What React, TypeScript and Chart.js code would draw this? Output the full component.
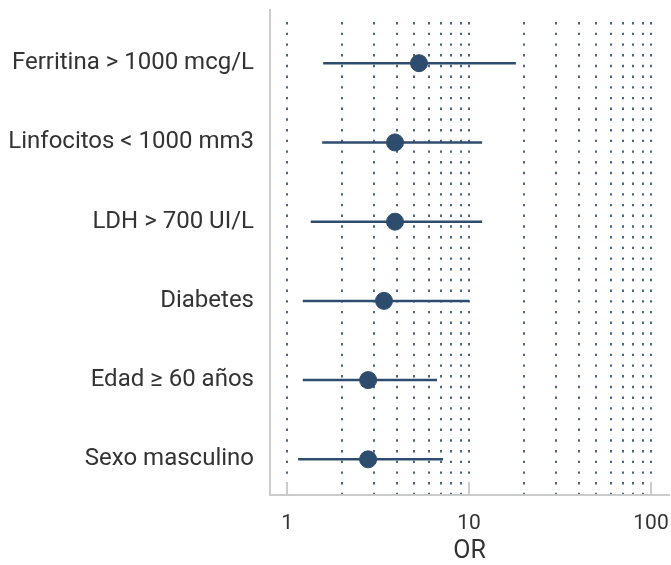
import { useEffect, useRef } from 'react';
import { Chart, registerables } from 'chart.js';

Chart.register(...registerables);

const categories = [
  'Sexo masculino',
  'Edad ≥ 60 años',
  'Diabetes',
  'LDH > 700 UI/L',
  'Linfocitos < 1000 mm3',
  'Ferritina > 1000 mcg/L',
];
const orValues = [2.79, 2.79, 3.41, 3.92, 3.92, 5.31];
const ciLow = [1.15, 1.22, 1.22, 1.35, 1.56, 1.58];
const ciHigh = [7.2, 6.67, 10.0, 11.8, 11.8, 18.1];
const gridValues = [1, 2, 3, 4, 5, 6, 7, 8, 9, 10, 20, 30, 40, 50, 60, 70, 80, 90, 100];
const labeledTicks = [1, 10, 100];

const MARK = '#2e4c6d';
const TEXT = '#333333';
const AXIS = '#cccccc';

const zeroPad = () => ({ left: 0, right: 0, top: 0, bottom: 0 });

const decor = {
  id: 'decor',
  afterDraw(chart: any) {
    const { ctx, chartArea, scales } = chart;
    const x = scales.x;
    ctx.save();
    ctx.strokeStyle = AXIS;
    ctx.lineWidth = 2;
    labeledTicks.forEach((v) => {
      const px = x.getPixelForValue(v);
      ctx.beginPath();
      ctx.moveTo(px, chartArea.bottom);
      ctx.lineTo(px, chartArea.bottom - 13);
      ctx.stroke();
    });
    ctx.beginPath();
    ctx.moveTo(chartArea.left, chartArea.top);
    ctx.lineTo(chartArea.left, chartArea.top - 13);
    ctx.stroke();
    ctx.restore();
  },
};

export default function App() {
  const ref = useRef<HTMLCanvasElement | null>(null);

  useEffect(() => {
    document.body.style.margin = '0';
    const canvas = ref.current;
    if (!canvas) return;

    const ciSets = categories.map((_, i) => ({
      type: 'scatter' as const,
      data: [
        { x: ciLow[i], y: i },
        { x: ciHigh[i], y: i },
      ],
      showLine: true,
      borderColor: MARK,
      borderWidth: 2.5,
      pointRadius: 0,
      pointHoverRadius: 0,
    }));

    const chart = new Chart(canvas, {
      type: 'scatter',
      data: {
        datasets: [
          ...ciSets,
          {
            type: 'scatter',
            data: orValues.map((v, i) => ({ x: v, y: i })),
            backgroundColor: MARK,
            borderColor: MARK,
            pointRadius: 8.5,
            pointHoverRadius: 8.5,
          },
        ] as any,
      },
      options: {
        animation: false,
        responsive: false,
        layout: { autoPadding: false, padding: { top: 22, right: 2, left: 0, bottom: 0 } },
        plugins: { legend: { display: false }, tooltip: { enabled: false } },
        scales: {
          x: {
            type: 'logarithmic',
            min: 0.806,
            max: 125.6,
            afterBuildTicks: (scale: any) => {
              scale.ticks = gridValues.map((v) => ({ value: v }));
            },
            afterFit: (scale: any) => {
              scale.height = 70;
              scale.paddingLeft = 0;
              scale.paddingRight = 0;
              scale.paddingTop = 0;
              scale.paddingBottom = 0;
              scale.getPadding = zeroPad;
            },
            grid: {
              display: true,
              drawTicks: false,
              color: '#4a6585',
              lineWidth: 2,
            },
            border: {
              display: true,
              color: AXIS,
              width: 2,
              dash: [2.4, 8.3],
            },
            ticks: {
              autoSkip: false,
              maxRotation: 0,
              padding: 16,
              color: TEXT,
              font: { family: 'Roboto', size: 21 },
              callback: (v: any) => (labeledTicks.includes(Number(v)) ? String(v) : ''),
            },
            title: {
              display: true,
              text: 'OR',
              color: TEXT,
              font: { family: 'Roboto', size: 25, lineHeight: 1 },
              padding: { top: 0, bottom: 1 },
            },
          },
          y: {
            type: 'linear',
            min: -0.45,
            max: 5.52,
            afterBuildTicks: (scale: any) => {
              scale.ticks = categories.map((_, i) => ({ value: i }));
            },
            afterFit: (scale: any) => {
              scale.width = 270;
              scale.paddingLeft = 0;
              scale.paddingRight = 0;
              scale.paddingTop = 0;
              scale.paddingBottom = 0;
              scale.getPadding = zeroPad;
            },
            grid: { display: false, drawTicks: false },
            border: { display: true, color: AXIS, width: 2 },
            ticks: {
              padding: 16,
              color: TEXT,
              font: { family: 'Roboto', size: 24 },
              callback: (v: any) => categories[Number(v)] ?? '',
            },
          },
        },
      },
      plugins: [decor],
    });

    return () => chart.destroy();
  }, []);

  return <canvas ref={ref} width={671} height={565} style={{ display: 'block' }} />;
}
